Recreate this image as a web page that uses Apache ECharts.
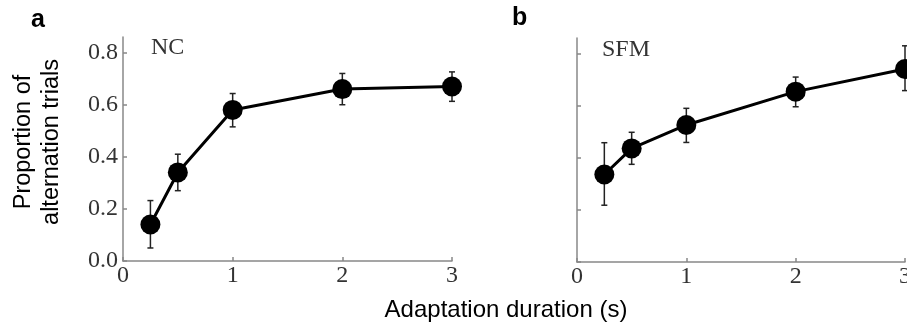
<!DOCTYPE html>
<html>
<head>
<meta charset="utf-8">
<script src="https://cdn.jsdelivr.net/npm/echarts@6/dist/echarts.min.js"></script>
<style>
  html, body { margin: 0; padding: 0; background: #fff; }
  #chart { width: 907px; height: 328px; }
</style>
</head>
<body>
<div id="chart"></div>
<script>
// adaptation durations (s)
const durations = [0.25, 0.5, 1, 2, 3];

// panel a: NC
const ncMean = [0.14, 0.34, 0.58, 0.66, 0.67];
const ncLow = [0.05, 0.27, 0.515, 0.6, 0.613];
const ncHigh = [0.232, 0.41, 0.643, 0.72, 0.726];

// panel b: SFM
const sfmMean = [0.336, 0.436, 0.526, 0.654, 0.741];
const sfmLow = [0.218, 0.375, 0.459, 0.596, 0.658];
const sfmHigh = [0.458, 0.498, 0.59, 0.71, 0.83];

const yTicks = [0, 0.2, 0.4, 0.6, 0.8];
const xTicks = [0, 1, 2, 3];

const chart = echarts.init(document.getElementById("chart"));

const serif = "Liberation Serif";
const sans = "Liberation Sans";

const xAxisBase = {
  type: "value",
  min: 0,
  max: 3,
  interval: 1,
  splitLine: { show: false },
  axisLine: { lineStyle: { color: "#888", width: 1.5 } },
  axisTick: { inside: true, length: 4, lineStyle: { color: "#888", width: 1.5 }, customValues: xTicks },
  axisLabel: { fontFamily: serif, fontSize: 24, color: "#333", margin: 3, customValues: xTicks },
};

const yAxisBase = {
  type: "value",
  min: 0,
  max: 0.86,
  interval: 0.2,
  splitLine: { show: false },
  axisLine: { show: true, lineStyle: { color: "#888", width: 1.5 } },
  axisTick: { show: true, inside: true, length: 4, lineStyle: { color: "#888", width: 1.5 }, customValues: yTicks },
};

const errorSeries = (idx, low, high) => ({
  type: "custom",
  xAxisIndex: idx,
  yAxisIndex: idx,
  z: 1,
  clip: false,
  data: durations.map((d, i) => [d, low[i], high[i]]),
  renderItem(params, api) {
    const lo = api.coord([api.value(0), api.value(1)]);
    const hi = api.coord([api.value(0), api.value(2)]);
    const cap = 3;
    const style = { stroke: "#222", lineWidth: 1.5 };
    return {
      type: "group",
      children: [
        { type: "line", shape: { x1: lo[0], y1: lo[1], x2: hi[0], y2: hi[1] }, style },
        { type: "line", shape: { x1: lo[0] - cap, y1: lo[1], x2: lo[0] + cap, y2: lo[1] }, style },
        { type: "line", shape: { x1: hi[0] - cap, y1: hi[1], x2: hi[0] + cap, y2: hi[1] }, style },
      ],
    };
  },
});

const lineSeries = (idx, mean) => ({
  type: "line",
  xAxisIndex: idx,
  yAxisIndex: idx,
  z: 3,
  data: durations.map((d, i) => [d, mean[i]]),
  symbol: "circle",
  symbolSize: 20,
  lineStyle: { color: "#000", width: 3 },
  itemStyle: { color: "#000" },
});

chart.setOption({
  animation: false,
  grid: [
    { left: 123, top: 37, width: 329, height: 224, outerBoundsMode: "none" },
    { left: 577, top: 38, width: 328, height: 224, outerBoundsMode: "none" },
  ],
  xAxis: [
    { ...xAxisBase, gridIndex: 0 },
    { ...xAxisBase, gridIndex: 1 },
  ],
  yAxis: [
    {
      ...yAxisBase,
      gridIndex: 0,
      axisLabel: {
        fontFamily: serif, fontSize: 24, color: "#333", margin: 5,
        customValues: yTicks,
        formatter: (v) => v.toFixed(1),
      },
    },
    { ...yAxisBase, gridIndex: 1, axisLabel: { show: false } },
  ],
  graphic: [
    { type: "text", left: 31, top: 8, style: { text: "a", font: "bold 25px " + sans, fill: "#000" } },
    { type: "text", left: 512, top: 6, style: { text: "b", font: "bold 25px " + sans, fill: "#000" } },
    { type: "text", x: 151, y: 48, style: { text: "NC", font: "24px " + serif, fill: "#333", verticalAlign: "middle" } },
    { type: "text", x: 602, y: 50, style: { text: "SFM", font: "24px " + serif, fill: "#333", verticalAlign: "middle" } },
    {
      type: "text", x: 38, y: 142, rotation: Math.PI / 2,
      style: {
        text: "Proportion of\nalternation trials", font: "23.5px " + sans, fill: "#000",
        align: "center", verticalAlign: "middle", lineHeight: 28,
      },
    },
    {
      type: "text", x: 506, y: 310,
      style: { text: "Adaptation duration (s)", font: "24px " + sans, fill: "#000", align: "center", verticalAlign: "middle" },
    },
  ],
  series: [
    errorSeries(0, ncLow, ncHigh),
    lineSeries(0, ncMean),
    errorSeries(1, sfmLow, sfmHigh),
    lineSeries(1, sfmMean),
  ],
});
</script>
</body>
</html>
